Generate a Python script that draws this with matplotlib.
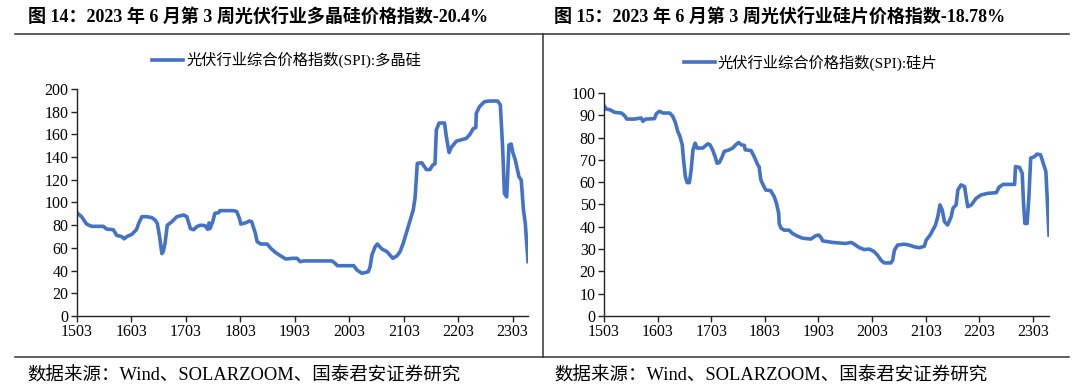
import matplotlib.pyplot as plt
import matplotlib.lines as mlines

# months counted from 2015-03 (1503 = 0)
poly_months = [0, 1, 2.1, 3.2, 5, 5.8, 6.5, 8, 8.75, 9.85, 10.4, 11, 12.1, 13.1, 13.6, 14.3,
               15.4, 16.5, 17.2, 17.7, 18.2, 18.7, 19.0, 19.4, 19.9, 20.9, 22, 23.5, 24.2,
               25, 25.7, 26.4, 27.2, 28.2, 28.8, 29.1, 29.3, 29.9, 30.4, 31.2, 31.5, 34.5,
               35.2, 35.8, 36.1, 37.1, 38, 38.5, 39.3, 39.7, 40.5, 41.9, 42.7, 43.8, 44.9,
               46, 47.4, 48.5, 49.2, 50, 56.2, 56.9, 57.4, 61, 61.7, 62.8, 64.2, 64.6, 65,
               65.7, 66.2, 67.2, 68.3, 69.6, 70.5, 71.2, 71.9, 73, 74.1, 74.5, 75, 76, 77,
               77.8, 78.4, 78.9, 79.2, 79.8, 81, 81.4, 82, 82.5, 83.6, 85, 85.8, 86.6, 87.3,
               87.9, 88, 88.7, 89.8, 90.9, 92.7, 93.3, 93.8, 94.2, 94.7, 94.9, 95.2, 95.7,
               96, 96.6, 97.4, 97.9, 98.4, 98.8, 99.4]
poly_values = [91, 87.5, 81, 79, 79, 79, 76.6, 76, 71, 70, 68, 70, 72, 76, 81.6, 87.5,
               87.5, 86.6, 84.6, 81.6, 70, 55, 56.7, 64, 80, 83, 87.5, 89, 87.5,
               77, 76, 78.7, 80, 79.6, 76.4, 82, 77, 83, 90.5, 91, 92.8, 92.8,
               92, 86, 81, 82, 83.7, 83, 73, 65.5, 63.4, 63.4, 59.6, 55.8, 52.9,
               50.2, 50.8, 50.8, 47.9, 48.5, 48.5, 46.4, 44.3, 44.3, 40.5, 37.6, 39, 43.5, 53.7,
               61, 63.4, 59, 56.7, 50.8, 52.9, 56.7, 64, 78.7, 93.4, 103.7, 134.5, 135, 129,
               129, 133, 134, 164, 170, 170, 158, 144, 148.6, 154, 155.6, 156.5, 160, 165,
               166, 178.6, 184.4, 188.8, 189.4, 189.4, 186, 149, 108, 105, 122.8, 150.6, 151.5,
               144.8, 137.4, 122.8, 119.8, 93.4, 81.6, 47.9]

wafer_months = [0, 0.5, 1.3, 2.4, 3.9, 4.6, 5.1, 6.8, 8.3, 8.7, 9.3, 11.3, 11.7, 12.4, 13.2,
                14.7, 15.4, 16, 16.5, 17.0, 17.5, 17.8, 18.2, 18.6, 19.1, 19.5, 19.9, 20.4,
                20.8, 22.1, 23.2, 23.7, 24.3, 24.9, 25.3, 25.8, 26.4, 26.9, 28, 28.8, 29.5,
                30.1, 30.7, 31.4, 31.6, 32.9, 33.6, 34.4, 34.7, 35.1, 35.6, 36.2, 37.3, 38.1,
                38.6, 39.1, 39.2, 39.6, 40.3, 41.4, 42.2, 43.3, 44.4, 46.3, 47.4, 48.1, 48.7,
                48.9, 51.1, 54.1, 55.3, 56, 57.1, 58.2, 59.4, 60.5, 61.2, 62, 62.7, 64.2, 64.6,
                65, 65.7, 67.2, 68.3, 69.5, 70.6, 71.7, 72.1, 73, 74.2, 74.7, 75.2, 75.7, 76.2,
                76.9, 77.7, 78.1, 78.8, 79.2, 79.9, 80.7, 81.4, 82.2, 83.3, 84.4, 85.9, 87.8,
                88.4, 89.3, 91.9, 92.1, 93, 93.6, 93.9, 94.2, 94.7, 95.1, 95.5, 96.4, 96.9,
                97.7, 98.9, 99.6]
wafer_values = [94.3, 92.8, 92.5, 91.3, 91, 89.8, 88.3, 88.3, 88.8, 87.3, 88.3, 88.5, 90.7,
                91.8, 91, 91, 89.5, 86.5, 82.8, 80.5, 76.8, 70, 62.5, 59.8, 59.8, 65.5, 74.5,
                77.5, 75.3, 75.3, 77.2, 76.8, 74.5, 71.2, 68.5, 68.8, 71.2, 73.8, 74.5, 75.3,
                76.8, 77.8, 76.8, 76.5, 74.5, 74.2, 71.5, 67.8, 67, 61, 58.8, 56.5, 56.2, 53.5,
                50.5, 46, 41.5, 39.4, 38.5, 38.5, 37, 35.8, 34.9, 34.5, 36, 36.3, 34.8,
                33.7, 33, 32.5, 33, 32.2, 30.7, 29.8, 30, 28.8, 27.3, 25, 23.8, 23.8, 25,
                29.5, 31.8, 32.2, 31.8, 31, 30.6, 31.3, 34, 36.3, 40.8, 44.5, 49.8, 47.5, 42.3,
                40.8, 44.5, 48.3, 49.8, 56.5, 58.8, 58, 49, 49.8, 52.8, 54.3, 55, 55.3,
                57.7, 59, 59, 67, 66.6, 64, 50.5, 41.5, 41.5, 53.5, 70.8, 71.5, 72.6,
                72.3, 64.8, 36.3]

tick_pos = [0, 12, 24, 36, 48, 60, 72, 84, 96]
tick_labels = ['1503', '1603', '1703', '1803', '1903', '2003', '2103', '2203', '2303']

titles = ['图 14：2023 年 6 月第 3 周光伏行业多晶硅价格指数-20.4%',
          '图 15：2023 年 6 月第 3 周光伏行业硅片价格指数-18.78%']
legend_labels = ['光伏行业综合价格指数(SPI):多晶硅', '光伏行业综合价格指数(SPI):硅片']
source = '数据来源：Wind、SOLARZOOM、国泰君安证券研究'

serif_cjk = ['Liberation Serif', 'Noto Sans CJK SC']
line_color = '#4472C4'

fig = plt.figure(figsize=(10.8, 3.92), dpi=100)

ax1 = fig.add_axes([0.0713, 0.1939, 0.4176, 0.5791])
ax2 = fig.add_axes([0.5593, 0.1939, 0.4120, 0.5689])

panels = [(ax1, poly_months, poly_values, 200, 20, 99.4, 1.128),
          (ax2, wafer_months, wafer_values, 100, 10, 99.6, 1.135)]

for i, (ax, xs, ys, ymax, ystep, xmax, leg_y) in enumerate(panels):
    ax.plot(xs, ys, color=line_color, lw=2.6, solid_joinstyle='round')
    ax.set_xlim(0, xmax)
    ax.set_ylim(0, ymax)
    ax.set_yticks(range(0, ymax + 1, ystep))
    ax.set_xticks(tick_pos)
    ax.set_xticklabels(tick_labels)
    for s in ['top', 'right']:
        ax.spines[s].set_visible(False)
    for s in ['left', 'bottom']:
        ax.spines[s].set_color('#222222')
        ax.spines[s].set_linewidth(1.0)
    ax.tick_params(length=4, width=1.0, color='#222222', labelsize=11.5, pad=2)
    for lab in ax.get_xticklabels() + ax.get_yticklabels():
        lab.set_family('Liberation Serif')
    handle = mlines.Line2D([], [], color=line_color, lw=2.6)
    ax.legend([handle], [legend_labels[i]], loc='center', bbox_to_anchor=(0.465, leg_y),
              frameon=False, handlelength=2.0, handletextpad=0.2,
              prop={'family': serif_cjk, 'size': 11})

# titles and source lines
fig.text(0.026, 0.957, titles[0], family=serif_cjk, fontsize=13, fontweight='bold', va='center')
fig.text(0.513, 0.957, titles[1], family=serif_cjk, fontsize=13, fontweight='bold', va='center')
fig.text(0.025, 0.041, source, family=serif_cjk, fontsize=13.3, va='center')
fig.text(0.513, 0.041, source, family=serif_cjk, fontsize=13.3, va='center')

# frame lines
frame = dict(color='#333333', lw=1.1, transform=fig.transFigure)
fig.add_artist(mlines.Line2D([0.014, 0.990], [1 - 34 / 392, 1 - 34 / 392], **frame))
fig.add_artist(mlines.Line2D([0.014, 0.990], [1 - 357 / 392, 1 - 357 / 392], **frame))
fig.add_artist(mlines.Line2D([543 / 1080, 543 / 1080], [1 - 34 / 392, 1 - 357 / 392], **frame))

fig.savefig('out.png', dpi=100)
